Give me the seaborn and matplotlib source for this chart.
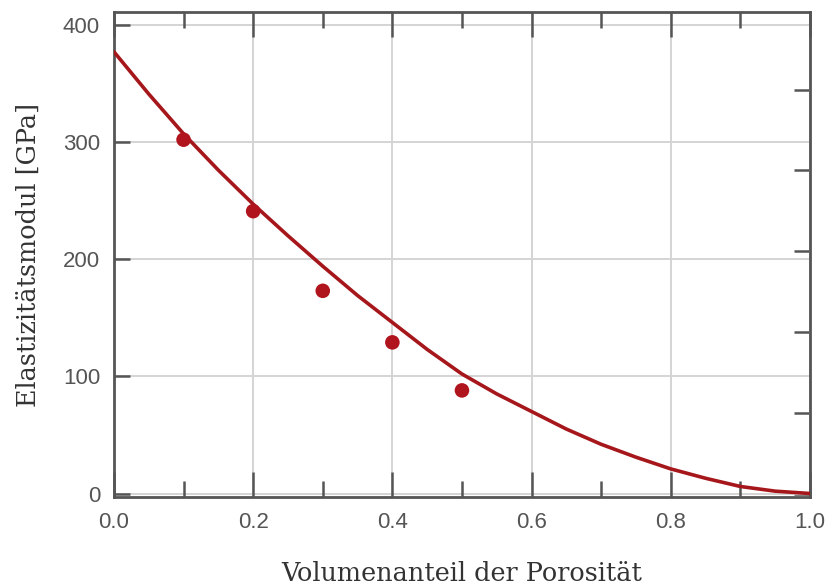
import matplotlib
matplotlib.use("Agg")
import matplotlib.pyplot as plt
import seaborn as sns
import pandas as pd
import numpy as np

# Measured data points
porosity_pts = [0.1, 0.2, 0.3, 0.4, 0.5]
modulus_pts = [302, 241, 173, 129, 88]

# Fitted curve
porosity_curve = [0.0, 0.05, 0.1, 0.15, 0.2, 0.25, 0.3, 0.35, 0.4, 0.45, 0.5,
                  0.55, 0.6, 0.65, 0.7, 0.75, 0.8, 0.85, 0.9, 0.95, 1.0]
modulus_curve = [377, 341, 307, 276, 247, 220, 194, 169, 146, 123, 102,
                 85, 70, 55, 42, 31, 21, 13, 6, 2, 0]

x_ticks = [0.0, 0.2, 0.4, 0.6, 0.8, 1.0]
x_tick_labels = ["0.0", "0.2", "0.4", "0.6", "0.8", "1.0"]
y_ticks = [0, 100, 200, 300, 400]
right_ticks_mpsi = [0, 10, 20, 30, 40, 50]
GPA_PER_MPSI = 6.894757

sns.set_theme(style="white")
plt.rcParams['font.family'] = ['Liberation Sans', 'DejaVu Sans']

RED = "#a6171c"
SPINE = "#555555"

fig = plt.figure(figsize=(8.27, 5.85), dpi=100)
ax = fig.add_axes([0.1378, 0.1504, 0.8416, 0.8291])

df_curve = pd.DataFrame({"p": porosity_curve, "E": modulus_curve})
df_pts = pd.DataFrame({"p": porosity_pts, "E": modulus_pts})

sns.lineplot(data=df_curve, x="p", y="E", ax=ax, color=RED, lw=2.6, zorder=3)
sns.scatterplot(data=df_pts, x="p", y="E", ax=ax, color="#b0141c", s=110,
                edgecolor="none", zorder=4)

ax.set_xlim(0, 1.0)
ax.set_ylim(-3, 411)

ax.set_xticks(x_ticks)
ax.set_xticklabels(x_tick_labels)
ax.set_xticks(np.arange(1, 10, 2) / 10, minor=True)
ax.set_yticks(y_ticks)
ax.set_yticklabels([str(v) for v in y_ticks])

ax.grid(True, which="major", color="#d4d4d4", lw=1.4, zorder=0)
ax.set_axisbelow(True)
ax.xaxis.set_zorder(0.55)

for s in ax.spines.values():
    s.set_color(SPINE)
    s.set_linewidth(2)

ax.tick_params(axis="x", which="major", direction="in", length=18, width=1.8,
               color=SPINE, top=True, bottom=True, labelsize=16, labelcolor="#555555", pad=11)
ax.tick_params(axis="x", which="minor", direction="in", length=11.5, width=1.8,
               color=SPINE, top=True, bottom=True)
ax.tick_params(axis="y", which="major", direction="in", length=11.5, width=1.8,
               color=SPINE, left=True, right=False, labelsize=16, labelcolor="#555555", pad=10)

sec = ax.secondary_yaxis("right", functions=(lambda g: g / GPA_PER_MPSI,
                                              lambda m: m * GPA_PER_MPSI))
sec.set_yticks(right_ticks_mpsi)
sec.set_yticklabels([])
sec.tick_params(direction="in", length=11.5, width=1.8, color=SPINE)
sec.spines["right"].set_visible(False)

ax.set_xlabel("Volumenanteil der Porosität", family="DejaVu Serif",
              fontsize=18.4, color="#333333", va="center")
ax.set_ylabel("Elastizitätsmodul [GPa]", family="DejaVu Serif",
              fontsize=18.4, color="#333333", va="center")
ax.xaxis.set_label_coords(0.5, -0.157)
ax.yaxis.set_label_coords(-0.1236, 0.5)

fig.savefig("out.png", dpi=100)
